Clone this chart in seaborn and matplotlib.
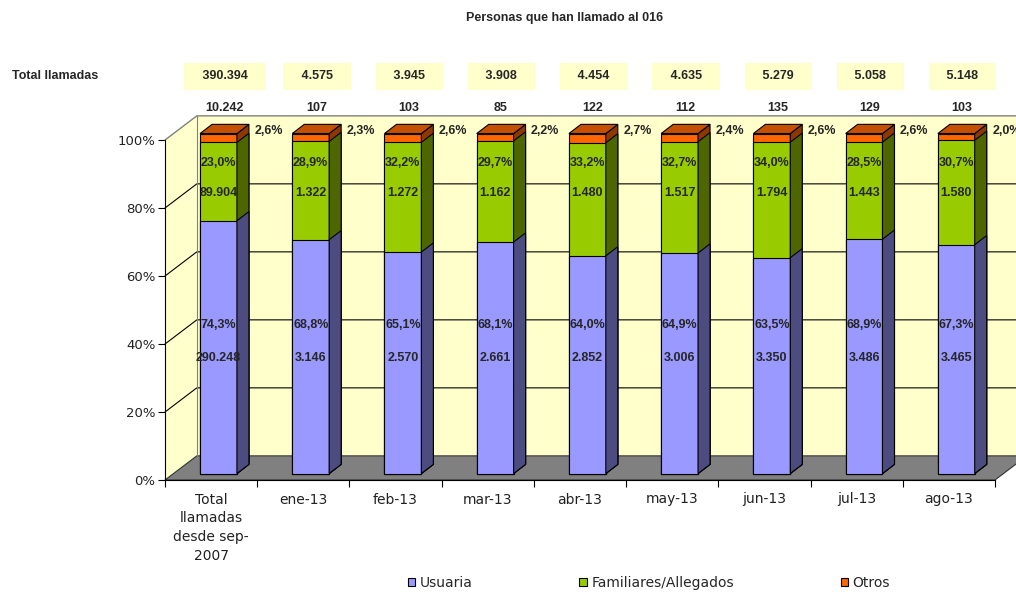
import numpy as np
import pandas as pd
import matplotlib.pyplot as plt
import seaborn as sns
from matplotlib.patches import Polygon, Patch

sns.set_theme(style="white")
plt.rcParams['font.family'] = ['DejaVu Sans']

# Datos
categorias = ["Total\nllamadas\ndesde sep-\n2007", "ene-13", "feb-13", "mar-13", "abr-13",
              "may-13", "jun-13", "jul-13", "ago-13"]
usuaria = [290248, 3146, 2570, 2661, 2852, 3006, 3350, 3486, 3465]
familiares = [89904, 1322, 1272, 1162, 1480, 1517, 1794, 1443, 1580]
otros = [10242, 107, 103, 85, 122, 112, 135, 129, 103]
total_llamadas = [390394, 4575, 3945, 3908, 4454, 4635, 5279, 5058, 5148]
y_ticks = [0, 20, 40, 60, 80, 100]
series = ["Usuaria", "Familiares/Allegados", "Otros"]

# colores (frente, lateral)
col_usu = ("#9999FF", "#4C4C80")
col_fam = ("#99CC00", "#4D6600")
col_otr = ("#FF6600", "#8C3800")
col_top = "#C45000"
amarillo = "#FFFFCC"

# efecto 3D (unidades de datos)
BAR_W = 0.4
BX, BY = 0.08, 1.9     # desplazamiento de la cara frontal
DX, DY = 0.13, 2.7     # profundidad de la barra
WX, WY = 0.345, 7.1    # pared del fondo


def miles(n):
    return f"{int(n):,}".replace(",", ".")


def pct(v):
    return f"{v:.1f}%".replace(".", ",")


df = pd.DataFrame({"categoria": categorias, "usuaria": usuaria, "familiares": familiares,
                   "otros": otros, "total": total_llamadas})
df["p_usu"] = df["usuaria"] / df["total"] * 100
df["p_fam"] = df["familiares"] / df["total"] * 100
df["p_otr"] = df["otros"] / df["total"] * 100
df["c_usu"] = df["p_usu"]
df["c_fam"] = df["p_usu"] + df["p_fam"]
df["c_otr"] = df["c_fam"] + df["p_otr"]

fig = plt.figure(figsize=(10.16, 5.92), dpi=100)
ax = fig.add_axes([165 / 1016, 112 / 592, 830 / 1016, 340 / 592])
ax.patch.set_alpha(0)

x_l, x_r = -0.5, len(categorias) - 0.5

# paredes y suelo
ax.add_patch(Polygon([(x_l + WX, WY), (x_r + WX, WY), (x_r + WX, 100 + WY), (x_l + WX, 100 + WY)],
                     closed=True, fc=amarillo, ec="none", zorder=0.5, clip_on=False))
ax.add_patch(Polygon([(x_l, 0), (x_l + WX, WY), (x_l + WX, 100 + WY), (x_l, 100)],
                     closed=True, fc=amarillo, ec="none", zorder=0.5, clip_on=False))
ax.add_patch(Polygon([(x_l, 0), (x_r, 0), (x_r + WX, WY), (x_l + WX, WY)],
                     closed=True, fc="#808080", ec="#333333", lw=0.8, zorder=0.6, clip_on=False))
for t in y_ticks[1:-1]:
    ax.plot([x_l, x_l + WX, x_r + WX], [t, t + WY, t + WY], color="black", lw=0.8,
            zorder=0.8, clip_on=False)
ax.plot([x_l, x_l + WX, x_r + WX], [100, 100 + WY, 100 + WY], color="#808080", lw=1.0,
        zorder=0.8, clip_on=False)
ax.plot([x_l + WX, x_l + WX], [WY, 100 + WY], color="#808080", lw=0.8, zorder=0.8, clip_on=False)


def cara(pts, color, z):
    ax.add_patch(Polygon(pts, closed=True, fc=color, ec="black", lw=0.8, zorder=z, clip_on=False))


# barras apiladas (acumuladas, de arriba hacia abajo)
for col, (front, side), z in [("c_otr", col_otr, 2), ("c_fam", col_fam, 3), ("c_usu", col_usu, 4)]:
    n0 = len(ax.patches)
    sns.barplot(data=df, x="categoria", y=col, order=categorias, color=front, saturation=1,
                width=BAR_W, edgecolor="black", linewidth=0.8, errorbar=None, ax=ax)
    for p in list(ax.patches)[n0:]:
        p.set_x(p.get_x() + BX)
        p.set_y(p.get_y() + BY)
        p.set_zorder(z)
        p.set_clip_on(False)
        x0, x1, h = p.get_x(), p.get_x() + p.get_width(), p.get_height()
        cara([(x1, BY), (x1 + DX, BY + DY), (x1 + DX, h + BY + DY), (x1, h + BY)], side, z)
        if col == "c_otr":
            cara([(x0, h + BY), (x0 + DX, h + BY + DY), (x1 + DX, h + BY + DY), (x1, h + BY)],
                 col_top, z)

ax.set_xlim(x_l, x_r)
ax.set_ylim(0, 100)
ax.set_xlabel("")
ax.set_ylabel("")

# ejes
for s in ["top", "right"]:
    ax.spines[s].set_visible(False)
for s in ["left", "bottom"]:
    ax.spines[s].set_color("black")
    ax.spines[s].set_linewidth(0.8)
    ax.spines[s].set_zorder(5)

ax.set_yticks(y_ticks)
ax.set_yticklabels([f"{t}%" for t in y_ticks])
ax.tick_params(axis="y", left=True, length=5, width=0.8, pad=2, labelsize=9.5,
               color="black", labelcolor="#222222")
ax.set_xticks(range(len(categorias)))
ax.set_xticklabels(categorias)
ax.set_xticks(np.arange(x_l, x_r + 0.1, 1), minor=True)
ax.tick_params(axis="x", which="major", bottom=True, length=0, pad=9, labelsize=10,
               labelcolor="#222222")
ax.tick_params(axis="x", which="minor", bottom=True, length=5, width=0.8, color="black")
for lab in ax.get_xticklabels():
    lab.set_linespacing(1.45)

# etiquetas
fnum = dict(family="Liberation Sans", fontweight="bold", fontsize=9, va="center", zorder=10)
for i, (u, f, o, tot, pu, pf, po) in enumerate(zip(usuaria, familiares, otros, total_llamadas,
                                                    df["p_usu"], df["p_fam"], df["p_otr"])):
    xc = i + BX
    ax.text(xc, 45.6, pct(pu), ha="center", **fnum)
    ax.text(xc, 35.9, miles(u), ha="center", **fnum)
    ax.text(xc, 93.2, pct(pf), ha="center", **fnum)
    ax.text(xc, 84.4, miles(f), ha="center", **fnum)
    ax.text(i + 0.47, 102.6, pct(po), ha="left", **fnum)
    ax.text(i + 0.14, 109.4, miles(o), ha="center", **fnum)
    ax.text(i + 0.15, 118.7, f"   {miles(tot)}   ", ha="center",
            bbox=dict(boxstyle="square,pad=0.6", fc=amarillo, ec="none"), **fnum)

fig.text(565 / 1016, 1 - 18 / 592, "Personas que han llamado al 016", ha="center", va="center",
         family="Liberation Sans", fontweight="bold", fontsize=9)
fig.text(12 / 1016, 1 - 76 / 592, "Total llamadas", ha="left", va="center",
         family="Liberation Sans", fontweight="bold", fontsize=9)

handles = [Patch(facecolor=c[0], edgecolor="black", lw=0.8) for c in (col_usu, col_fam, col_otr)]
fig.legend(handles, series, loc="center", bbox_to_anchor=(649 / 1016, 1 - 583 / 592), ncol=3,
           frameon=False, fontsize=10, handlelength=0.55, handleheight=0.55,
           handletextpad=0.3, columnspacing=7.7, borderpad=0)

fig.savefig("out.png", dpi=100)
